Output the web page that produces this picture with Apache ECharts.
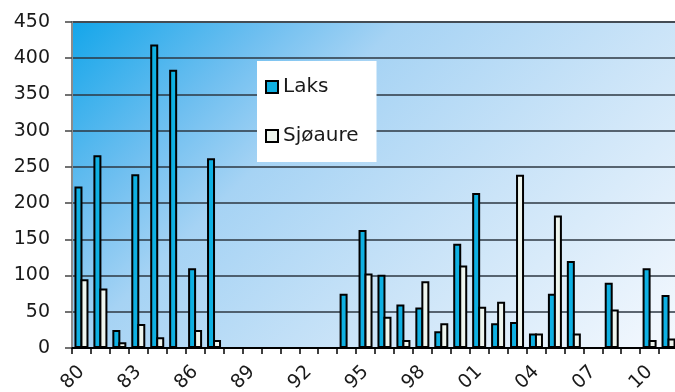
<!DOCTYPE html>
<html>
<head>
<meta charset="utf-8">
<script src="https://cdn.jsdelivr.net/npm/echarts@6/dist/echarts.min.js"></script>
<style>
  html, body { margin: 0; padding: 0; background: #ffffff; }
  #chart { width: 675px; height: 392px; }
</style>
</head>
<body>
<div id="chart"></div>
<script>
// Fangst per år, 1980–2011 (to-sifret årstall)
const years = ['80','81','82','83','84','85','86','87','88','89','90','91','92','93','94','95',
               '96','97','98','99','00','01','02','03','04','05','06','07','08','09','10','11'];

// Laks
const laks = [223, 266, 25, 240, 419, 384, 110, 262, null, null, null, null, null, null, 75, 163,
              101, 60, 56, 23, 144, 214, 34, 36, 20, 75, 120, null, 90, null, 110, 73];

// Sjøaure
const sjoaure = [95, 82, 8, 33, 15, null, 25, 11, null, null, null, null, null, null, null, 103,
                 43, 11, 92, 34, 114, 57, 64, 239, 20, 183, 20, null, 53, null, 11, 13];

const yTicks = { min: 0, max: 450, step: 50 };

const FONT = 'DejaVu Sans';
const GRID = { left: 72, top: 22, right: -3, bottom: 44 };

// diagonal fade across the plot area, in pixel coordinates (45° isolines)
const plotBg = new echarts.graphic.LinearGradient(GRID.left, GRID.top, GRID.left + 466, GRID.top + 466, [
  { offset: 0, color: '#14a6ea' },
  { offset: 0.215, color: '#6fbff0' },
  { offset: 0.354, color: '#a6d3f4' },
  { offset: 0.644, color: '#cbe4f8' },
  { offset: 1, color: '#f5f9fe' }
], true);

const chart = echarts.init(document.getElementById('chart'), null, { renderer: 'canvas' });

chart.setOption({
  animation: false,
  grid: {
    left: GRID.left, top: GRID.top, right: GRID.right, bottom: GRID.bottom,
    outerBoundsMode: 'none',
    containLabel: false,
    show: true,
    borderColor: '#8c8c8c',
    borderWidth: 2,
    backgroundColor: plotBg
  },
  legend: {
    orient: 'vertical',
    left: 257, top: 61,
    backgroundColor: '#ffffff',
    padding: [16, 18, 16, 8],
    itemGap: 29,
    itemWidth: 12, itemHeight: 12,
    itemStyle: { borderColor: '#000000', borderWidth: 2 },
    selectedMode: false,
    icon: 'rect',
    textStyle: { fontFamily: FONT, fontSize: 20, lineHeight: 20, color: '#1a1a1a' },
    data: ['Laks', 'Sjøaure']
  },
  xAxis: {
    type: 'category',
    data: years,
    boundaryGap: true,
    axisLine: { lineStyle: { color: '#000000', width: 2 } },
    axisTick: { show: true, interval: 0, length: 6, alignWithLabel: false, lineStyle: { color: '#000000', width: 1.5 } },
    axisLabel: { interval: 2, rotate: 45, margin: 21, fontFamily: FONT, fontSize: 19, color: '#1a1a1a' },
    splitLine: { show: false }
  },
  yAxis: {
    type: 'value',
    min: yTicks.min, max: yTicks.max, interval: yTicks.step,
    axisLine: { show: true, lineStyle: { color: '#8c8c8c', width: 2 } },
    axisTick: { show: true, length: 7, lineStyle: { color: '#444444', width: 1.5 } },
    axisLabel: { margin: 22, fontFamily: FONT, fontSize: 19, color: '#1a1a1a' },
    splitLine: { show: true, lineStyle: { color: '#2c3742', width: 1.5 } }
  },
  series: [
    {
      name: 'Laks',
      type: 'bar',
      data: laks,
      barWidth: 8,
      barGap: '-25%',
      itemStyle: { color: '#0fb0e2', borderColor: '#000000', borderWidth: 2 }
    },
    {
      name: 'Sjøaure',
      type: 'bar',
      data: sjoaure,
      barWidth: 8,
      barGap: '-25%',
      itemStyle: { color: '#eef5ee', borderColor: '#000000', borderWidth: 2 }
    }
  ]
});
</script>
</body>
</html>
